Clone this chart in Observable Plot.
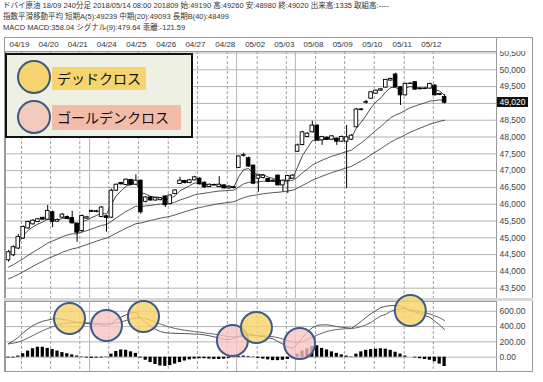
<!DOCTYPE html>
<html><head><meta charset="utf-8">
<script src="https://cdn.jsdelivr.net/npm/d3@7"></script>
<script src="https://cdn.jsdelivr.net/npm/@observablehq/plot@0.6"></script>
<style>
body{margin:0;background:#fff;}
#wrap{position:relative;width:543px;height:382px;overflow:hidden;background:#fff;font-family:"Liberation Sans","Noto Sans CJK JP",sans-serif;}
.hdr{position:absolute;left:3px;font-size:7.5px;line-height:11px;color:#333;white-space:nowrap;}
.abs{position:absolute;}
.lc{position:absolute;width:34px;height:34px;box-sizing:border-box;border:2px solid #41597f;border-radius:50%;}
.lt{position:absolute;font-family:"Noto Sans CJK JP",sans-serif;font-size:14px;color:#111;box-sizing:border-box;padding-left:5px;white-space:nowrap;}
</style></head>
<body><div id="wrap"></div>
<script>
// ---------- data ----------
const dateLabels = ["04/19","04/20","04/21","04/24","04/25","04/26","04/27","04/28","05/02","05/03","05/08","05/09","05/10","05/11","05/12"];
const dayLines = [2.65,8.6,14.55,20.45,26.5,32.6,38.55,44.65,50.75,56.7,62.65,68.6,74.65,80.75,86.7];
const weekLines = [16.55,46.55,58.55];
const priceTicks = [43500,44000,44500,45000,45500,46000,46500,47000,47500,48000,48500,49000,49500,50000,50500];
const macdTicks = [0,200,400,600];

const open  = [44330,44480,44680,44980,45280,45400,45470,45595,45540,45760,45480,45600,45620,45590,45420,45200,45570,45800,45770,45620,45640,45600,46400,46630,46570,46720,46580,46700,46070,46200,46110,46120,46230,46000,46300,46600,46690,46630,46710,46760,46640,46510,46560,46510,46560,46470,46500,47080,47440,47370,47150,46760,46780,46750,46670,46850,46560,46700,46760,47560,47760,48000,48140,48340,47900,47980,47920,47950,47860,47860,47920,48290,48820,49020,49140,49290,49380,49470,49680,49860,49480,49240,49580,49630,49420,49440,49440,49530,49250,49190];
const high  = [44620,44760,45100,45350,45500,45540,45580,45610,45960,45800,45560,45720,45650,45790,45440,45680,45640,45820,45820,45930,45660,46450,46600,46650,46750,46740,46875,46720,46230,46230,46200,46200,46250,46280,46430,46800,46710,46740,46830,46790,46660,46600,46600,46820,46580,46540,46530,47440,47520,47400,47160,46870,46880,46770,46730,46870,46720,46860,46880,47790,48170,48130,48470,48360,48020,48000,48040,47970,48030,48340,48070,48850,48840,49090,49360,49400,49440,49720,49750,49900,49500,49600,49610,49650,49460,49470,49600,49560,49300,49260];
const low   = [44280,44440,44650,44950,45250,45380,45450,45520,45520,45300,45460,45580,45540,45410,44870,45150,45550,45760,45740,45600,45170,45580,46380,46570,46550,46550,46560,45700,46040,46090,46090,46100,45900,45980,46290,46590,46600,46610,46690,46570,46470,46490,46540,46490,46450,46440,46450,47060,47400,47100,46580,46360,46750,46640,46650,46540,46360,46320,46740,47540,47740,47980,48120,47880,47750,47900,47900,47750,47840,46460,47900,48270,48780,48980,49120,49270,49360,49450,49660,49460,48940,49220,49560,49390,49400,49410,49420,49220,49230,48980];
const close = [44570,44720,45020,45320,45470,45510,45550,45540,45800,45470,45530,45690,45560,45430,45150,45650,45610,45770,45790,45900,45590,46400,46580,46590,46730,46570,46700,45760,46200,46110,46180,46180,45970,46260,46410,46700,46630,46710,46800,46590,46500,46580,46570,46580,46470,46520,46480,47420,47460,47120,46610,46850,46850,46660,46700,46560,46700,46840,46850,47750,48140,48100,48340,47900,48000,47920,48020,47860,48000,47990,48040,48820,48800,49040,49330,49380,49420,49700,49730,49480,49240,49580,49590,49410,49440,49430,49580,49240,49280,49020];

const ma5  = [44540,44640,44830,45060,45220,45330,45410,45470,45560,45530,45530,45580,45575,45525,45400,45485,45525,45605,45665,45745,45700,46000,46250,46400,46540,46580,46640,46350,46300,46235,46215,46200,46125,46170,46250,46400,46475,46553,46635,46620,46580,46580,46577,46578,46542,46535,46517,46818,47032,47061,46911,46891,46877,46805,46770,46700,46700,46747,46781,47104,47449,47666,47891,47894,47929,47926,47957,47925,47950,47963,47989,48266,48444,48643,48872,49041,49167,49345,49473,49475,49397,49458,49502,49471,49461,49451,49494,49409,49366,49239];
const ma20 = [44125,44200,44290,44380,44480,44570,44660,44744,44845,44905,44965,45034,45084,45117,45120,45170,45212,45265,45315,45371,45392,45488,45592,45687,45786,45861,45941,45924,45950,45965,45985,46004,46001,46026,46063,46124,46172,46223,46278,46308,46326,46350,46371,46391,46399,46411,46418,46513,46603,46652,46648,46667,46684,46682,46684,46672,46675,46691,46706,46805,46932,47043,47166,47236,47309,47367,47429,47470,47520,47565,47610,47725,47827,47942,48074,48200,48316,48448,48570,48657,48713,48796,48872,48923,48972,49016,49069,49085,49103,49093];
const ma40 = [43780,43840,43910,43990,44070,44150,44230,44300,44380,44440,44500,44570,44620,44670,44700,44750,44800,44850,44900,44950,44990,45060,45140,45210,45290,45350,45420,45440,45480,45515,45550,45585,45610,45640,45680,45730,45775,45820,45865,45900,45930,45960,45990,46015,46035,46055,46075,46135,46195,46240,46258,46286,46312,46328,46345,46355,46370,46392,46414,46478,46558,46632,46715,46773,46833,46886,46942,46987,47036,47082,47129,47211,47289,47374,47470,47563,47653,47752,47848,47927,47991,48069,48143,48205,48265,48322,48383,48425,48467,48499];

const macd   = [175,215,260,320,370,414,445,470,485,500,505,495,485,470,455,445,440,435,428,422,420,440,490,525,555,580,588,510,455,405,365,335,320,315,312,310,308,305,302,300,292,280,265,250,235,228,245,275,295,305,290,278,265,252,240,205,170,135,115,175,255,330,385,415,422,423,412,400,392,385,379,420,470,523,570,610,650,665,675,676,665,640,610,590,570,545,520,470,420,358.04];
const signal = [175,183,198,222,252,284,316,347,375,400,421,436,446,451,452,451,449,446,442,438,434,435,446,462,480,500,516,515,503,483,459,434,411,392,376,363,352,343,335,328,318,310,301,291,280,270,265,267,273,280,284,283,279,274,268,255,238,218,198,193,205,230,260,290,315,337,352,362,368,372,375,384,401,425,454,500,540,560,600,620,630,630,620,609,595,580,565,540,515,479.64];
const hist   = [-10,-10,15,45,80,110,130,130,115,100,80,60,45,30,15,-5,-10,-15,-12,-10,-5,40,75,95,90,70,50,-10,-40,-70,-95,-115,-120,-110,-90,-70,-50,-35,-25,-20,-20,-25,-30,-30,-25,-15,-5,10,15,10,-5,-15,-25,-35,-45,-45,-40,-30,10,40,80,110,140,150,115,95,70,50,30,15,5,40,70,90,100,105,110,105,90,65,40,15,0,-10,-20,-30,-40,-60,-90,-121.59];

// cross markers: [bar index, MACD value]
const deadCross   = [[12.45,506],[27.55,532],[50.6,388],[82,610]];
const goldenCross = [[20,414],[45.7,218],[59.4,179]];

// ---------- build ----------
const wrap = document.getElementById("wrap");
const N = close.length;
const bars = close.map((c,i)=>({i, open:open[i], high:high[i], low:low[i], close:c}));
const up = bars.filter(d=>d.close>=d.open);
const down = bars.filter(d=>d.close<d.open);
const xDomain = [-0.612, 99.59];
const fmtP = d3.format(",");
const fmtM = d3.format(".2f");

function el(tag, css, text){ const e=document.createElement(tag); e.style.cssText=css; if(text!=null) e.textContent=text; wrap.appendChild(e); return e; }

// header
const last = N-1;
el("div","top:0px;",`ドバイ原油 18/09 240分足 2018/05/14 08:00 201809 始:${open[last]} 高:${high[last]} 安:${low[last]} 終:${close[last]} 出来高:1335 取組高:----`).className="hdr";
el("div","top:11px;",`指数平滑移動平均 短期A(5):${ma5[last]} 中期(20):${ma20[last]} 長期B(40):${ma40[last]}`).className="hdr";
el("div","top:22px;",`MACD MACD:${macd[last].toFixed(2)} シグナル(9):${signal[last].toFixed(2)} 乖離:${hist[last].toFixed(2)}`).className="hdr";

// outer box
el("div","position:absolute;left:4px;top:37px;width:529px;height:335px;box-sizing:border-box;border:1px solid #9a9a9a;");

const baseStyle = {background:"transparent", fontFamily:"Liberation Sans, Noto Sans CJK JP, sans-serif", fontSize:"8.5px", position:"absolute", left:"0px", overflow:"visible"};

const main = Plot.plot({
  width:543, height:262, marginTop:14, marginBottom:1, marginLeft:5, marginRight:47,
  x:{domain:xDomain, axis:null},
  y:{domain:[43193,50545], axis:null},
  style:{...baseStyle, top:"37px"},
  marks:[
    Plot.ruleY(priceTicks,{stroke:"#b4b4b4", strokeWidth:1}),
    Plot.ruleX(dayLines,{stroke:"#a0a0a0", strokeDasharray:"3,2"}),
    Plot.ruleX(weekLines,{stroke:"#b4b4b4"}),
    Plot.line(ma40,{x:(d,i)=>i, y:d=>d, stroke:"#444", strokeWidth:0.9}),
    Plot.line(ma20,{x:(d,i)=>i, y:d=>d, stroke:"#444", strokeWidth:0.9}),
    Plot.line(ma5,{x:(d,i)=>i, y:d=>d, stroke:"#333", strokeWidth:0.9}),
    Plot.ruleX(bars,{x:"i", y1:"low", y2:"high", stroke:"#000", strokeWidth:1}),
    Plot.rect(up,{x1:d=>d.i-0.37, x2:d=>d.i+0.37, y1:"open", y2:"close", fill:"#fff", stroke:"#000", strokeWidth:0.9}),
    Plot.rect(down,{x1:d=>d.i-0.37, x2:d=>d.i+0.37, y1:"open", y2:"close", fill:"#000", stroke:"#000", strokeWidth:0.9}),
    Plot.frame({stroke:"#9a9a9a"}),
    Plot.text(priceTicks,{y:d=>d, text:d=>fmtP(d), frameAnchor:"right", dx:3, textAnchor:"start", fill:"#444", fontSize:8.5}),
    Plot.text(dateLabels,{x:(d,i)=>dayLines[i], text:d=>d, frameAnchor:"top", dy:-7, dx:-2, lineAnchor:"middle", fill:"#333", fontSize:8})
  ]
});
wrap.appendChild(main);

// cover above plot area in right column + divider in the date strip
el("div","position:absolute;left:497px;top:38px;width:35px;height:13px;background:#fff;");
el("div","position:absolute;left:496px;top:37px;width:1px;height:14px;background:#9a9a9a;");

// separator band
el("div","position:absolute;left:4px;top:298px;width:529px;height:3px;background:#d8d8d8;");

// current price tag
const yLast = main.scale("y").apply(close[last]) + 37;
el("div",`position:absolute;left:497px;top:${(yLast-5).toFixed(1)}px;width:31px;height:10px;background:#111;color:#fff;font-size:8.5px;line-height:10px;text-align:center;font-family:'Liberation Sans',sans-serif;`, fmtP(close[last]));

const macdPlot = Plot.plot({
  width:543, height:74, marginTop:2, marginBottom:2, marginLeft:5, marginRight:47,
  x:{domain:xDomain, axis:null},
  y:{domain:[-187,728], axis:null},
  style:{...baseStyle, top:"299px"},
  marks:[
    Plot.ruleY(macdTicks,{stroke:"#b4b4b4", strokeWidth:1}),
    Plot.ruleX(dayLines,{stroke:"#a0a0a0", strokeDasharray:"3,2"}),
    Plot.ruleX(weekLines,{stroke:"#b4b4b4"}),
    Plot.rect(hist,{x1:(d,i)=>i-0.33, x2:(d,i)=>i+0.33, y1:0, y2:d=>d, fill:"#000"}),
    Plot.line(signal,{x:(d,i)=>i, y:d=>d, stroke:"#666", strokeWidth:1}),
    Plot.line(macd,{x:(d,i)=>i, y:d=>d, stroke:"#555", strokeWidth:1}),
    Plot.frame({stroke:"#9a9a9a"}),
    Plot.text(macdTicks,{y:d=>d, text:d=>fmtM(d), frameAnchor:"right", dx:3, textAnchor:"start", fill:"#444", fontSize:8.5}),
    Plot.dot(goldenCross,{x:d=>d[0], y:d=>d[1], r:15.5, fill:"#f6c4c2", fillOpacity:0.78, stroke:"#3d5a8a", strokeWidth:2}),
    Plot.dot(deadCross,{x:d=>d[0], y:d=>d[1], r:15.5, fill:"#f8d36a", fillOpacity:0.82, stroke:"#3d5a8a", strokeWidth:2})
  ]
});
wrap.appendChild(macdPlot);

// legend
const lg = el("div","position:absolute;left:5px;top:53px;width:188px;height:85px;box-sizing:border-box;border:2px solid #111;background:#eef0e3;");
function add(parent, cls, css, text){ const e=document.createElement("div"); e.className=cls; e.style.cssText=css; if(text!=null) e.textContent=text; parent.appendChild(e); return e; }
add(lg,"lt","left:45px;top:11.5px;width:94px;height:23.5px;line-height:23.5px;background:#f6d46e;","デッドクロス");
add(lg,"lt","left:45px;top:50px;width:129px;height:25px;line-height:25px;background:#f2bcab;","ゴールデンクロス");
add(lg,"lc","left:10px;top:5px;background:#f6d46e;");
add(lg,"lc","left:10px;top:45px;background:#f3cbbd;");
</script>
</body></html>
